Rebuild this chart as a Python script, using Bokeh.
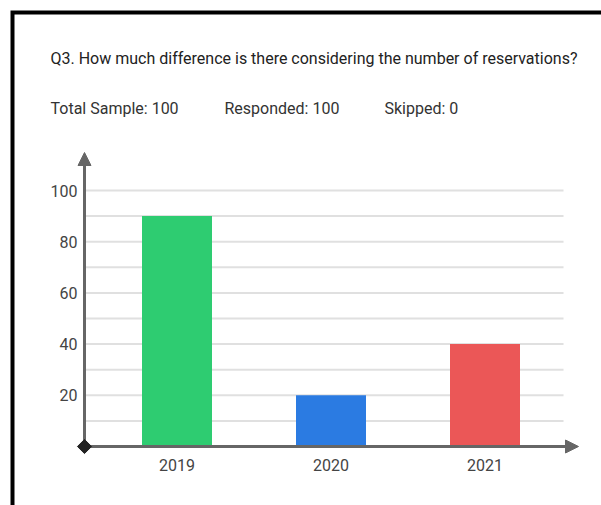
from bokeh.plotting import figure
from bokeh.models import Range1d, Arrow, NormalHead
from bokeh.core.properties import value
from bokeh.embed import file_html
from bokeh.resources import INLINE

# ---- data ----
question = "Q3. How much difference is there considering the number of reservations?"
summary_labels = ["Total Sample: 100", "Responded: 100", "Skipped: 0"]
years = ["2019", "2020", "2021"]
reservations = [90, 20, 40]
bar_colors = ["#2ecc71", "#2b7be2", "#eb5757"]
y_ticks = [20, 40, 60, 80, 100]
grid_values = [10, 20, 30, 40, 50, 60, 70, 80, 90, 100]

# ---- layout (canvas pixels) ----
W, H = 601, 505
FIRST_BAR_PX = 176.5   # centre of the first bar
BAR_STEP_PX = 154.0    # distance between bar centres
BAR_WIDTH_PX = 70.0
ZERO_PX = 446.0        # baseline
UNIT_PX = 2.56         # pixels per unit on the value axis
AXIS_X_PX = 84.0
FONT = value("Roboto")


def sx(px):
    return (px - FIRST_BAR_PX) / BAR_STEP_PX


def sy(py):
    return (ZERO_PX - py) / UNIT_PX


p = figure(width=W, height=H, x_range=Range1d(sx(0), sx(W)), y_range=Range1d(sy(H), sy(0)),
           x_axis_type=None, y_axis_type=None, min_border=0, toolbar_location=None,
           output_backend="svg")
p.outline_line_color = None
p.grid.visible = False
p.background_fill_color = "white"

# frame border along the top and left edges
p.line([sx(12), sx(12), sx(W + 10)], [sy(H + 10), sy(12), sy(12)],
       line_width=4, line_color="black", line_join="miter")

# horizontal gridlines
p.segment(x0=[sx(AXIS_X_PX)] * len(grid_values), x1=[sx(563)] * len(grid_values),
          y0=grid_values, y1=grid_values, line_color="#e0e0e0", line_width=2)

# bars
xs = list(range(len(years)))
p.vbar(x=xs, top=reservations, bottom=0, width=BAR_WIDTH_PX / BAR_STEP_PX,
       fill_color=bar_colors, line_color=None)

# axes with arrow heads
axis_color = "#666666"
p.add_layout(Arrow(end=NormalHead(size=13, fill_color=axis_color, line_color=axis_color),
                   x_start=sx(AXIS_X_PX), y_start=0, x_end=sx(AXIS_X_PX), y_end=sy(152),
                   line_color=axis_color, line_width=3))
p.add_layout(Arrow(end=NormalHead(size=13, fill_color=axis_color, line_color=axis_color),
                   x_start=sx(AXIS_X_PX), y_start=0, x_end=sx(578), y_end=0,
                   line_color=axis_color, line_width=3))
origin = p.scatter(x=[sx(AXIS_X_PX)], y=[0], marker="square", angle=0.785398, size=10,
                   fill_color="#222222", line_color="#222222")
origin.level = "overlay"

# tick labels
p.text(x=[sx(77)] * len(y_ticks), y=y_ticks, text=[str(v) for v in y_ticks],
       text_align="right", text_baseline="middle", text_font=FONT,
       text_font_size="16px", text_color="#444444")
p.text(x=xs, y=[sy(464)] * len(years), text=years, text_align="center",
       text_baseline="middle", text_font=FONT, text_font_size="16px", text_color="#444444")

# heading texts
p.text(x=[sx(50)], y=[sy(58)], text=[question], text_align="left", text_baseline="middle",
       text_font=FONT, text_font_size="16px", text_color="#222222")
p.text(x=[sx(50), sx(224), sx(384)], y=[sy(108)] * 3, text=summary_labels,
       text_align="left", text_baseline="middle", text_font=FONT,
       text_font_size="16px", text_color="#333333")

open("out.html", "w").write(file_html(p, INLINE))
